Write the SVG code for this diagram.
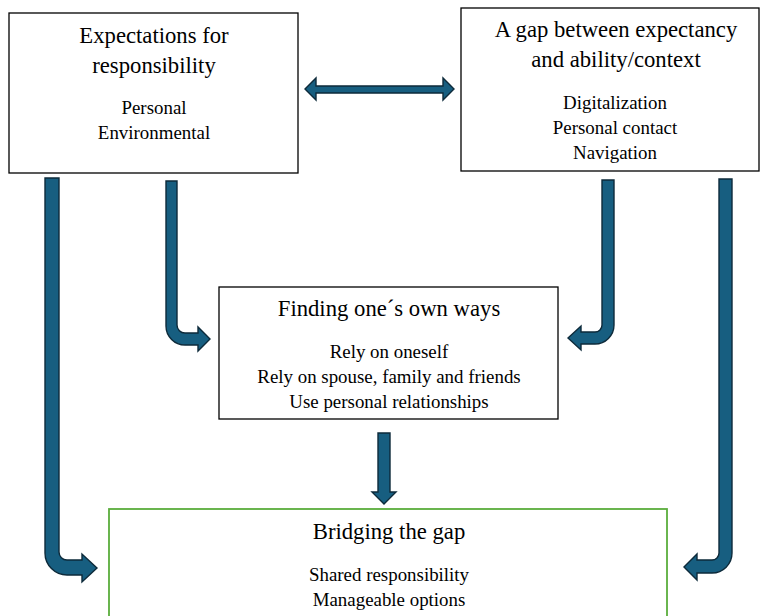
<svg xmlns="http://www.w3.org/2000/svg" width="760" height="616" viewBox="0 0 760 616">
<style>
.box{fill:#fff;stroke:#000;stroke-width:1.3}
.green{fill:#fff;stroke:#5aad3c;stroke-width:1.8}
.arr{fill:#175e80;stroke:#0d2a3a;stroke-width:1.4;stroke-linejoin:miter}
.tx{font-family:'Liberation Serif','Times New Roman','DejaVu Serif',serif;fill:#000;text-anchor:middle}
.t{font-size:22.7px}
.b{font-size:18.9px}
</style>
<rect width="760" height="616" fill="#fff"/>
<g id="node-expectations">
<rect class="box" x="9" y="13" width="289" height="160"/>
<text class="tx t" x="154" y="43">Expectations for</text>
<text class="tx t" x="154" y="73">responsibility</text>
<text class="tx b" x="154" y="114">Personal</text>
<text class="tx b" x="154" y="139">Environmental</text>
</g>
<g id="node-gap">
<rect class="box" x="461" y="8" width="298" height="163"/>
<text class="tx t" x="616" y="37">A gap between expectancy</text>
<text class="tx t" x="616" y="67">and ability/context</text>
<text class="tx b" x="615" y="109">Digitalization</text>
<text class="tx b" x="615" y="134">Personal contact</text>
<text class="tx b" x="615" y="159">Navigation</text>
</g>
<g id="node-finding">
<rect class="box" x="219" y="287" width="339" height="132"/>
<text class="tx t" x="389" y="316">Finding one´s own ways</text>
<text class="tx b" x="389" y="358">Rely on oneself</text>
<text class="tx b" x="389" y="383">Rely on spouse, family and friends</text>
<text class="tx b" x="389" y="408">Use personal relationships</text>
</g>
<g id="node-bridging">
<rect class="green" x="109" y="509" width="558" height="120"/>
<text class="tx t" x="389" y="539">Bridging the gap</text>
<text class="tx b" x="389" y="581">Shared responsibility</text>
<text class="tx b" x="389" y="606">Manageable options</text>
</g>
<g id="connectors">
<path class="arr" d="M305 89 L316 78 V86 H443 V78 L454 89 L443 100 V93 H316 V100 Z"/>
<path class="arr" d="M45 178 H59 V552 A8 8 0 0 0 67 560 H82 V554 L97 568 L82 582 V575 H67 A22 22 0 0 1 45 553 Z"/>
<path class="arr" d="M166 181 H177 V325 A8 8 0 0 0 185 333 H198 V327 L210 339 L198 351 V345 H185 A19 19 0 0 1 166 326 Z"/>
<path class="arr" d="M602 180 H614 V325 A19 19 0 0 1 595 344 H581 V350 L568 338 L581 326 V332 H595 A7 7 0 0 0 602 325 Z"/>
<path class="arr" d="M719 179 H732 V553 A20 20 0 0 1 712 573 H697 V580 L684 567 L697 554 V560 H712 A7 7 0 0 0 719 553 Z"/>
<path class="arr" d="M378 433 H390 V492 H396 L384 504 L372 492 H378 Z"/>
</g>
</svg>
